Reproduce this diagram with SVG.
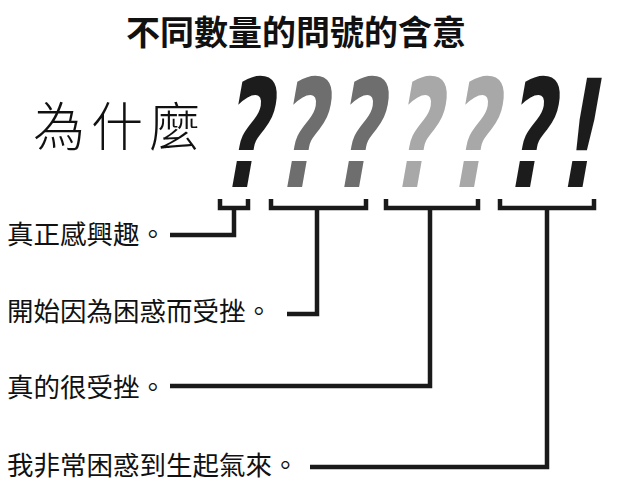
<svg xmlns="http://www.w3.org/2000/svg" width="620" height="497" viewBox="0 0 620 497">
<style>
.title{font-family:"Noto Sans CJK TC","Noto Sans CJK SC",sans-serif;font-size:34px;font-weight:bold;fill:#111}
.why{font-family:"Noto Sans CJK TC","Noto Sans CJK SC",sans-serif;font-size:52px;font-weight:300;fill:#111}
.lbl{font-family:"Noto Sans CJK TC","Noto Sans CJK SC",sans-serif;font-size:26.5px;fill:#111}
.q{font-family:"DejaVu Sans",sans-serif;font-weight:bold;font-size:150px}
.dark{fill:#1c1c1c}.mid{fill:#6e6e6e}.light{fill:#a8a8a8}
.br{fill:none;stroke:#1a1a1a;stroke-width:4.5;stroke-linejoin:miter;stroke-linecap:butt}
</style>
<rect width="620" height="497" fill="#fff"/>
<g id="title"><text class="title" x="296" y="45" text-anchor="middle">不同數量的問號的含意</text></g>
<g id="why"><text class="why" x="33" y="146" letter-spacing="6">為什麼</text></g>
<g id="marks">
<text class="q dark" transform="translate(218,187) skewX(-10) scale(0.56,1)">?</text>
<text class="q mid" transform="translate(273,187) skewX(-10) scale(0.56,1)">?</text>
<text class="q mid" transform="translate(330,187) skewX(-10) scale(0.56,1)">?</text>
<text class="q light" transform="translate(388,187) skewX(-10) scale(0.56,1)">?</text>
<text class="q light" transform="translate(445,187) skewX(-10) scale(0.56,1)">?</text>
<text class="q dark" transform="translate(501,187) skewX(-10) scale(0.56,1)">?</text>
<text class="q dark" transform="translate(556,187) skewX(-10) scale(0.56,1)">!</text>
</g>
<g id="label1"><text class="lbl" x="7" y="244">真正感興趣。</text></g>
<g id="label2"><text class="lbl" x="7" y="321">開始因為困惑而受挫。</text></g>
<g id="label3"><text class="lbl" x="7" y="397">真的很受挫。</text></g>
<g id="label4"><text class="lbl" x="7" y="475">我非常困惑到生起氣來。</text></g>
<g id="connectors">
<path class="br" d="M220,199 V208 H248 V199 M234,208 V235 H170"/>
<path class="br" d="M271,199 V208 H366 V199 M317,208 V314 H287"/>
<path class="br" d="M386,199 V208 H478 V199 M430,208 V386 H170"/>
<path class="br" d="M500,199 V208 H594 V199 M547,208 V467 H310"/>
</g>
</svg>
